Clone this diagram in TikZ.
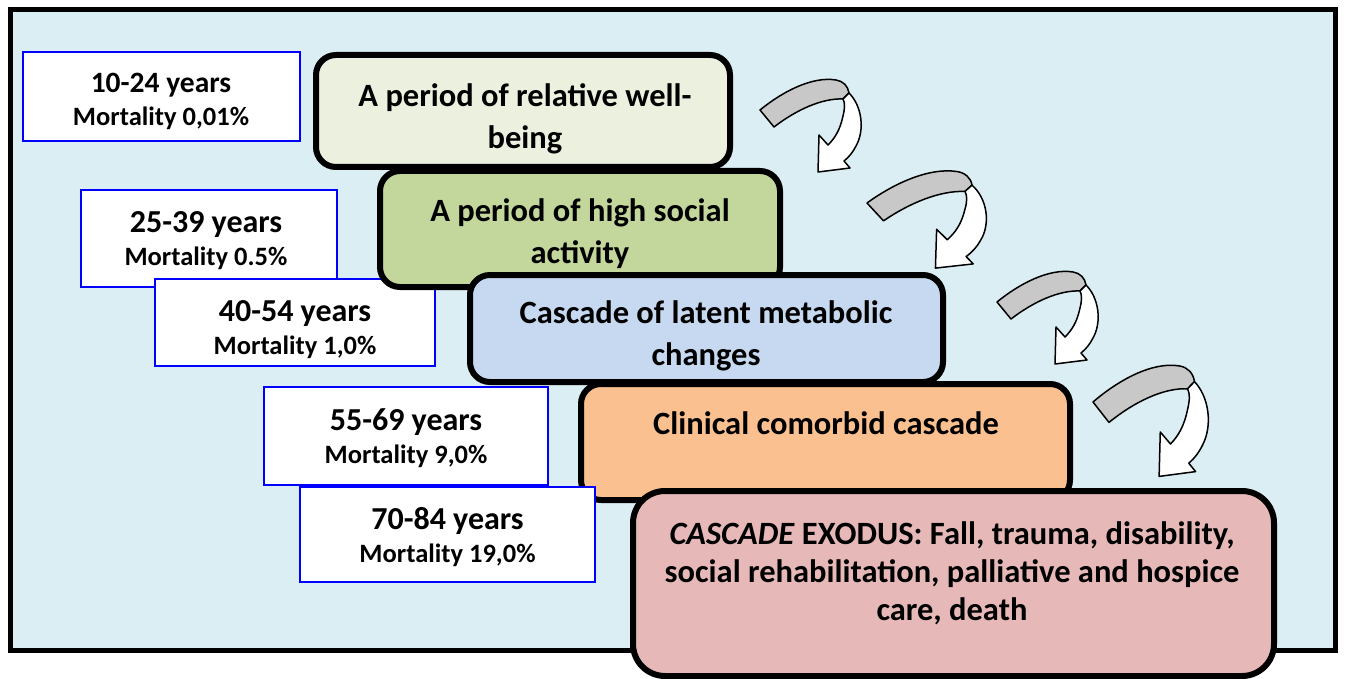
\documentclass[tikz,border=0pt]{standalone}
\usepackage{fontspec}
\setmainfont{Carlito}
\definecolor{panelblue}{HTML}{DAEEF3}
\definecolor{stageA}{HTML}{EBF1DE}
\definecolor{stageB}{HTML}{C3D69B}
\definecolor{stageC}{HTML}{C6D9F1}
\definecolor{stageD}{HTML}{FAC090}
\definecolor{stageE}{HTML}{E6B9B8}
\definecolor{bandgray}{HTML}{C8C8C8}
\begin{document}
\begin{tikzpicture}[x=1pt,y=-1pt,
  stage/.style={draw=black, line width=6pt, rounded corners=20pt, inner sep=0pt},
  stagetext/.style={align=center, inner sep=0pt, font=\bfseries\fontsize{32.5}{42}\selectfont},
  agebox/.style={draw=blue, line width=2pt, fill=white, inner sep=0pt},
  agetext/.style={align=center, inner sep=0pt, font=\bfseries\fontsize{26.5}{33}\selectfont},
  curlarrow/.pic={
    % grey upper face of the curled band
    \filldraw[fill=bandgray, draw=black, line width=1.5pt, line join=round]
      (0,0) .. controls (22,-18) and (52,-34) .. (76,-30)
      .. controls (83,-29) and (88,-24) .. (89,-17) -- (83,-11)
      .. controls (62,-12) and (36,0) .. (14,17) -- cycle;
    % white underside turning down into the arrow head
    \filldraw[fill=white, draw=black, line width=1.5pt, line join=round]
      (89,-17) .. controls (102,-4) and (105,20) .. (96,36)
      .. controls (93,42) and (89,47) .. (84,51) -- (90,58) -- (58,62) -- (59,25)
      -- (68,35) .. controls (75,28) and (80,20) .. (83,6)
      .. controls (85,-2) and (85,-7) .. (83,-11) -- cycle;
  }]
\useasboundingbox (0,0) rectangle (1346,679);
\fill[white] (0,0) rectangle (1346,679);
% outer panel
\filldraw[fill=panelblue, draw=black, line width=5pt] (10.5,9.5) rectangle (1335.5,650);

% first stage and the three upper age boxes
\node[stage, fill=stageA, minimum width=414pt, minimum height=112pt] (s1) at (523,111) {};
\node[stagetext] (t1) at (525,118.5) {A period of relative well-\\being};
\node[agebox, minimum width=277pt, minimum height=89pt] (a1) at (161,97) {};
\node[agetext] (b1) at (161,101) {{\fontsize{29.5}{33}\selectfont 10-24 years}\\Mortality 0,01\%};
\node[agebox, minimum width=256pt, minimum height=96pt] (a2) at (208.5,238.5) {};
\node[agetext] (b2) at (206,240.5) {{\fontsize{32}{33}\selectfont 25-39 years}\\Mortality 0.5\%};
\node[agebox, minimum width=280pt, minimum height=87pt] (a3) at (295,322.5) {};
\node[agetext] (b3) at (295,329.5) {{\fontsize{32}{33}\selectfont 40-54 years}\\Mortality 1,0\%};

% middle stages
\node[stage, fill=stageB, minimum width=400pt, minimum height=116pt] (s2) at (580,229) {};
\node[stagetext] (t2) at (580,234) {A period of high social\\activity};
\node[stage, fill=stageC, minimum width=473pt, minimum height=107pt] (s3) at (706.5,328.5) {};
\node[stagetext] (t3) at (706,335.5) {Cascade of latent metabolic\\changes};
\node[agebox, minimum width=284pt, minimum height=98pt] (a4) at (406,436) {};
\node[agetext] (b4) at (406,438) {{\fontsize{32}{33}\selectfont 55-69 years}\\Mortality 9,0\%};
\node[stage, fill=stageD, minimum width=489pt, minimum height=116pt] (s4) at (825.5,442) {};
\node[stagetext] (t4) at (826,423) {Clinical comorbid cascade};
\node[agebox, minimum width=295pt, minimum height=95pt] (a5) at (447.5,534.5) {};
\node[agetext] (b5) at (447.5,537.5) {{\fontsize{32}{33}\selectfont 70-84 years}\\Mortality 19,0\%};

% final stage
\node[stage, fill=stageE, minimum width=641pt, minimum height=185pt, rounded corners=32pt] (s5) at (953.5,583.5) {};
\node[stagetext, font=\bfseries\fontsize{32.5}{38}\selectfont] (t5) at (952,573)
  {\textit{CASCADE} EXODUS: Fall, trauma, disability,\\social rehabilitation, palliative and hospice\\care, death};

% curled arrows between the stages
\pic at (760,110) {curlarrow};
\pic[xscale=1.18, yscale=1.05] at (867,203) {curlarrow};
\pic at (997,302) {curlarrow};
\pic[xscale=1.14, yscale=1.2] at (1093,402) {curlarrow};
\end{tikzpicture}
\end{document}
